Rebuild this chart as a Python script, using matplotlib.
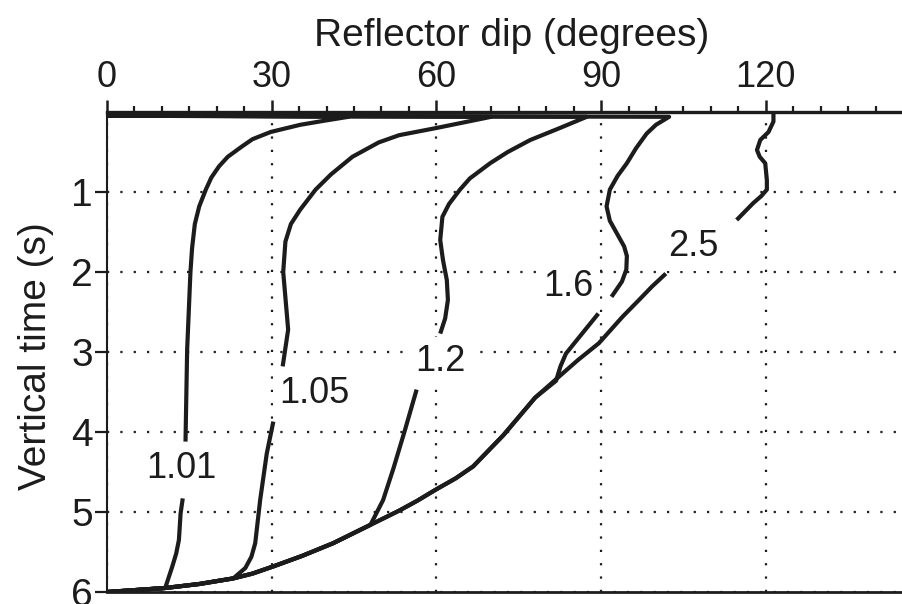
import numpy as np
import matplotlib.pyplot as plt

plt.rcParams['font.family'] = ['Liberation Sans', 'DejaVu Sans']
ink = '#1c1c1c'

# shared lower envelope (the 2.5 curve below its label), dip in degrees / time in s
env_dip = [101.8, 99.3, 96.9, 93.9, 89.6, 85.8, 82.3, 78.0, 72.2, 66.7, 63.5, 59.9, 56.5, 53.3, 48.0, 41.2, 35.5, 30.3, 26.5, 23.0, 16.8, 10.6, 0.0]
env_t = [2.02, 2.18, 2.35, 2.56, 2.89, 3.10, 3.31, 3.57, 4.04, 4.43, 4.58, 4.72, 4.86, 4.98, 5.16, 5.39, 5.55, 5.68, 5.77, 5.83, 5.90, 5.95, 6.0]

# upper segments (above the label) for each velocity ratio
up_101_dip = [0, 44.0, 39.5, 35.2, 29.8, 26.5, 24.6, 22.0, 20.4, 19.0, 18.0, 16.8, 16.0, 15.5, 15.2, 14.6, 14.3]
up_101_t = [0.045, 0.06, 0.11, 0.16, 0.25, 0.34, 0.43, 0.56, 0.68, 0.82, 0.97, 1.18, 1.40, 1.70, 2.0, 2.97, 4.12]
up_105_dip = [0, 70.0, 65.0, 60.0, 53.2, 49.5, 44.7, 40.8, 38.0, 35.2, 33.5, 32.5, 32.1, 32.6, 33.0, 32.0]
up_105_t = [0.045, 0.06, 0.13, 0.20, 0.29, 0.38, 0.56, 0.78, 0.97, 1.22, 1.40, 1.62, 2.0, 2.40, 2.72, 3.18]
up_12_dip = [0, 87.4, 82.5, 77.1, 73.0, 69.8, 66.1, 64.3, 62.3, 61.1, 60.7, 61.2, 61.9, 62.1, 61.6, 60.7]
up_12_t = [0.045, 0.06, 0.20, 0.35, 0.50, 0.64, 0.83, 0.97, 1.15, 1.31, 1.60, 1.85, 2.10, 2.35, 2.58, 2.77]
up_16_dip = [0, 102.4, 100.0, 98.3, 96.4, 94.7, 93.0, 91.6, 91.0, 91.6, 92.9, 94.2, 94.7, 94.6, 93.8, 91.9]
up_16_t = [0.045, 0.06, 0.16, 0.27, 0.45, 0.64, 0.80, 0.97, 1.18, 1.36, 1.52, 1.68, 1.80, 1.97, 2.12, 2.31]
up_25_dip = [121.4, 121.4, 120.5, 119.0, 118.4, 118.9, 119.9, 120.2, 120.2, 119.2, 117.7, 114.7]
up_25_t = [0.0, 0.12, 0.25, 0.35, 0.475, 0.56, 0.64, 0.85, 0.97, 1.05, 1.14, 1.35]

# lower segments (below the label) until they join the envelope
lo_101_dip = [13.8, 13.4, 13.1, 12.6, 11.9, 10.6]
lo_101_t = [4.83, 5.02, 5.35, 5.52, 5.68, 5.95]
lo_105_dip = [30.3, 29.1, 27.9, 27.0, 26.3, 25.2, 23.0]
lo_105_t = [3.87, 4.27, 4.85, 5.39, 5.56, 5.70, 5.83]
lo_12_dip = [56.4, 54.3, 52.2, 50.3, 48.0]
lo_12_t = [3.47, 3.97, 4.45, 4.85, 5.16]
lo_16_dip = [89.5, 85.6, 83.6, 82.6, 81.8]
lo_16_t = [2.52, 2.85, 3.02, 3.18, 3.36]

labels = ['1.01', '1.05', '1.2', '1.6', '2.5']
label_dip = [13.6, 37.8, 60.7, 84.0, 106.8]
label_t = [4.45, 3.52, 3.12, 2.18, 1.68]

fig = plt.figure(figsize=(9.03, 6.04), dpi=100)
ax = fig.add_axes([107 / 903, 12 / 604, 796 / 903, 480 / 604])

uppers = [(up_101_dip, up_101_t), (up_105_dip, up_105_t), (up_12_dip, up_12_t),
          (up_16_dip, up_16_t), (up_25_dip, up_25_t)]
lowers = [(lo_101_dip, lo_101_t), (lo_105_dip, lo_105_t), (lo_12_dip, lo_12_t),
          (lo_16_dip, lo_16_t), ([], [])]

for (ud, ut), (ld, lt) in zip(uppers, lowers):
    ax.plot(ud, ut, color=ink, lw=3, zorder=3, solid_capstyle='butt', solid_joinstyle='round')
    if ld:
        # follow the envelope after joining it
        d = list(ld) + [x for x in env_dip if x < ld[-1]]
        t = list(lt) + [y for x, y in zip(env_dip, env_t) if x < ld[-1]]
        ax.plot(d, t, color=ink, lw=3, zorder=3, solid_capstyle='butt', solid_joinstyle='round')
ax.plot(env_dip, env_t, color=ink, lw=3, zorder=3, solid_capstyle='butt', solid_joinstyle='round')

for s, x, y in zip(labels, label_dip, label_t):
    ax.text(x, y, s, fontsize=26, color=ink, ha='center', va='center', zorder=2,
            bbox=dict(facecolor='white', edgecolor='none', pad=5))

ax.set_xlim(0, 145)
ax.set_ylim(6, 0)
ax.set_xticks([0, 30, 60, 90, 120])
ax.set_xticks(np.arange(0, 145, 5), minor=True)
ax.set_yticks([1, 2, 3, 4, 5, 6])
ax.xaxis.tick_top()
ax.tick_params(axis='x', which='major', direction='out', length=9, width=1.8,
               pad=3, labelsize=26, colors=ink)
ax.tick_params(axis='x', which='minor', direction='out', length=4.5, width=1.6, colors=ink)
ax.tick_params(axis='y', which='major', direction='out', length=9, width=1.6,
               pad=1, labelsize=28, colors=ink)

ax.grid(True, color=ink, linestyle=(0, (1, 5)), linewidth=1.6)
ax.set_axisbelow(True)

ax.spines['right'].set_visible(False)
ax.spines['top'].set_linewidth(2.4)
ax.spines['bottom'].set_linewidth(2.0)
ax.spines['left'].set_linewidth(1.5)
for sp in ax.spines.values():
    sp.set_color(ink)

ax.xaxis.set_label_position('top')
ax.set_xlabel('Reflector dip (degrees)', fontsize=28, color=ink)
ax.xaxis.set_label_coords(0.508, 1.1375)
ax.set_ylabel('Vertical time (s)', fontsize=28, color=ink)
ax.yaxis.set_label_coords(-0.066, 0.492)

fig.savefig('out.png', dpi=100)
